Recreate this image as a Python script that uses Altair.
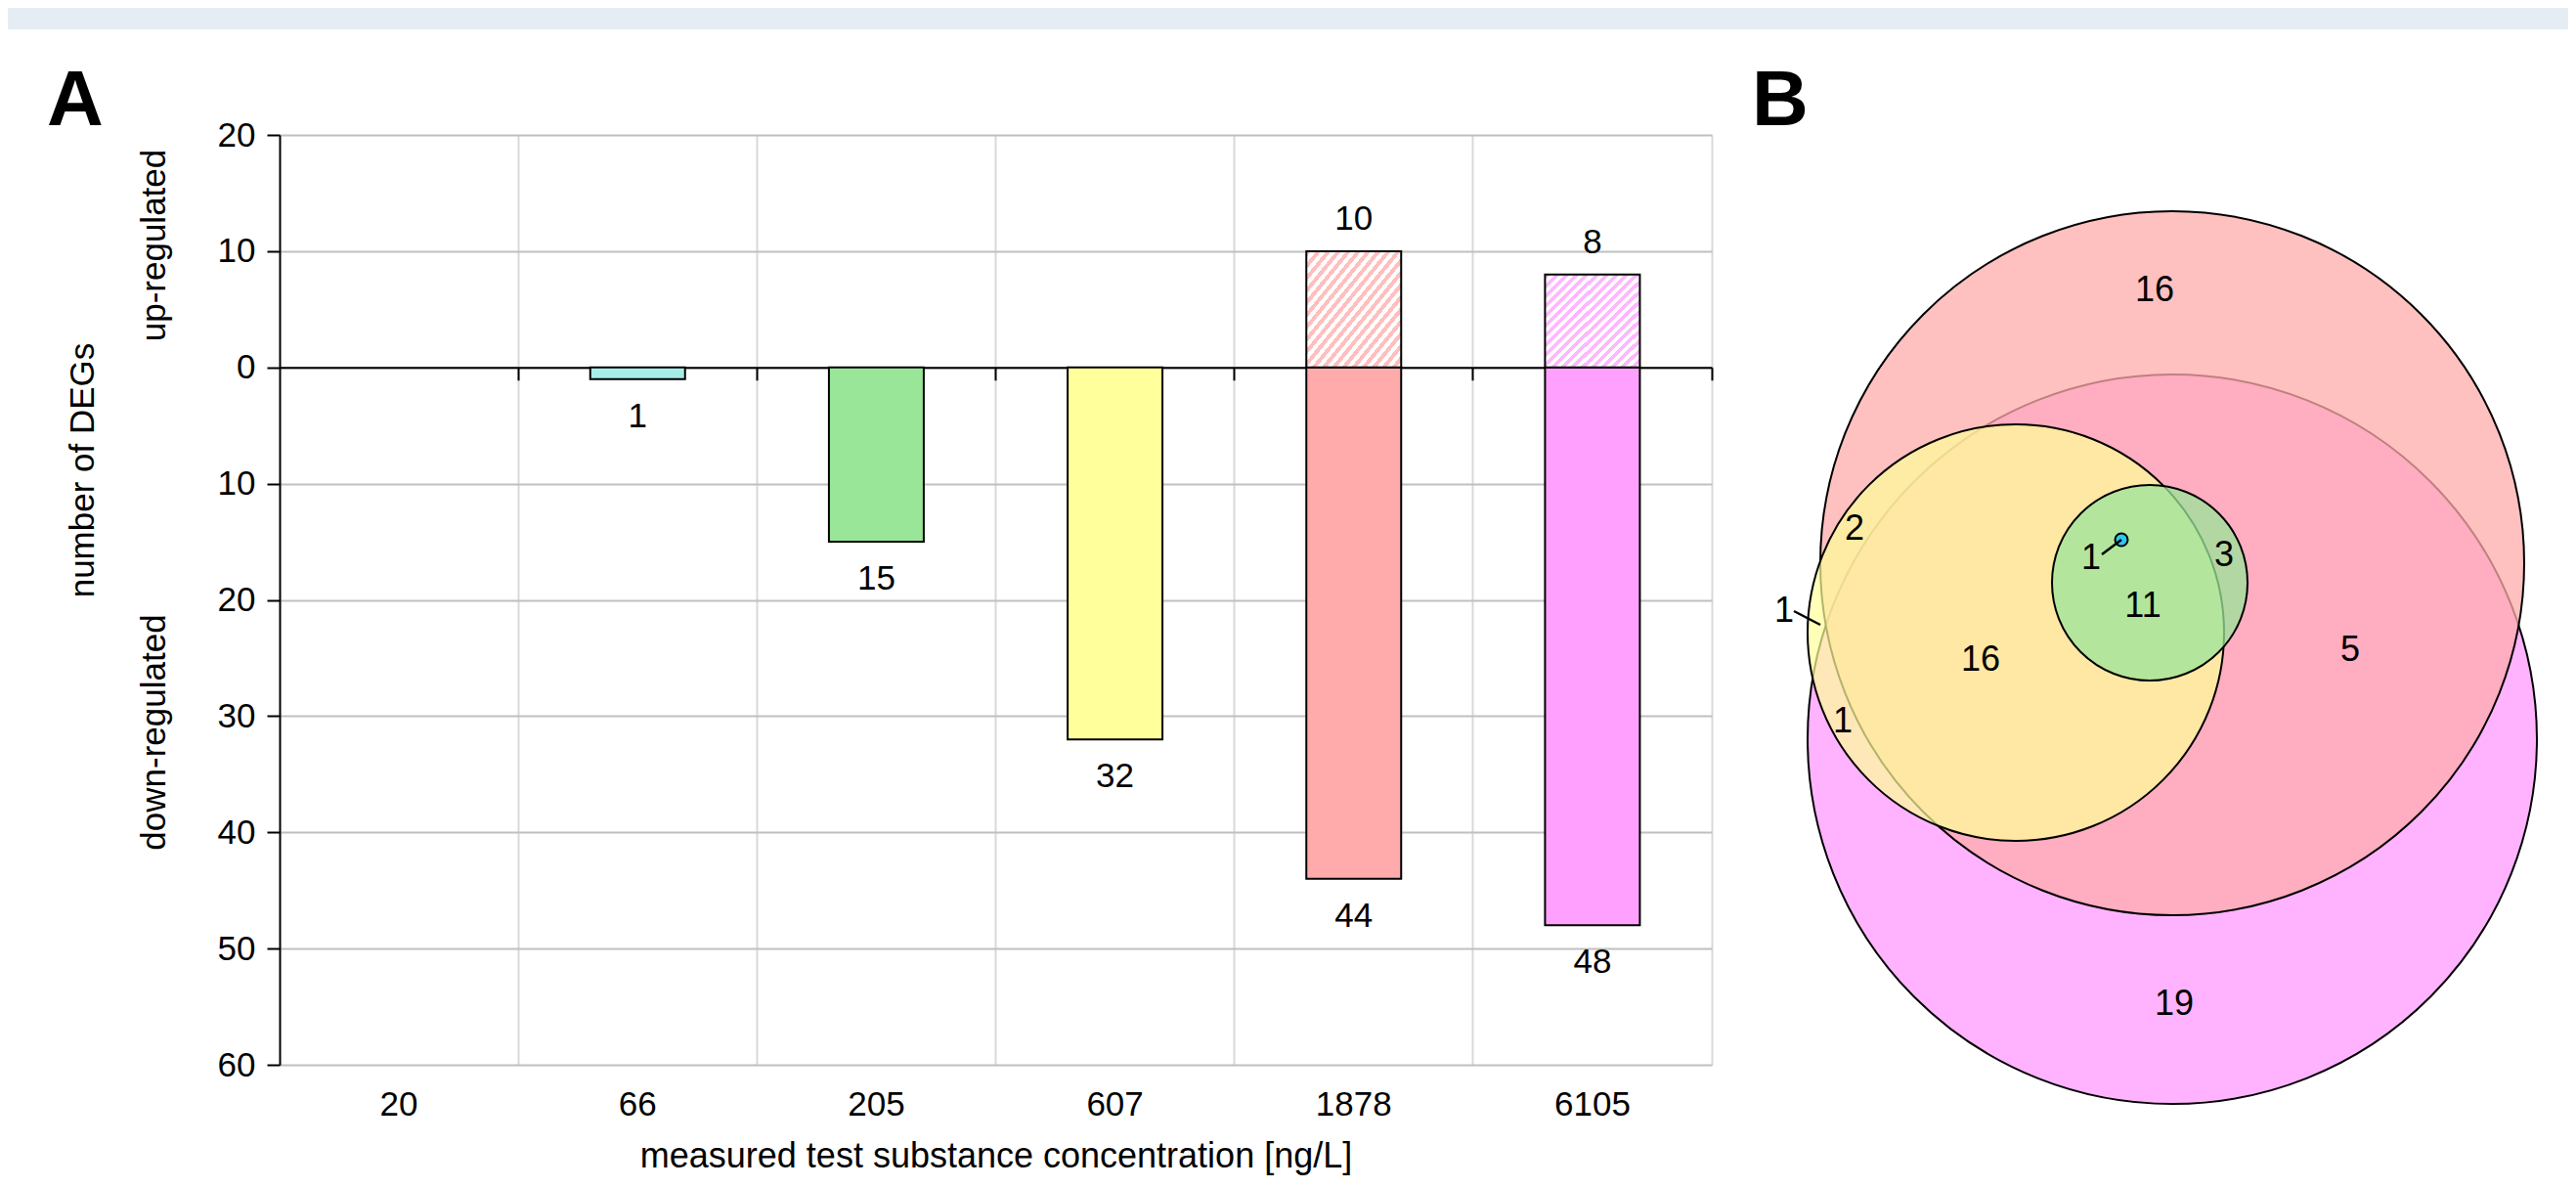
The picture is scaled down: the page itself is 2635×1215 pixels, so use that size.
import altair as alt
import pandas as pd

FONT = "Liberation Sans, Arial, Helvetica, sans-serif"

# ---------------- Panel A data ----------------
concentrations = ["20", "66", "205", "607", "1878", "6105"]
down_regulated = [0, 1, 15, 32, 44, 48]
up_regulated = [0, 0, 0, 0, 10, 8]
bar_colors = ["#FFFFFF", "#A6EDE8", "#99E699", "#FFFF9C", "#FFABAB", "#FFA0FF"]
hatch_colors = ["#FFFFFF", "#FFFFFF", "#FFFFFF", "#FFFFFF", "#FFBFBF", "#FFB8FF"]
y_ticks = [20, 10, 0, -10, -20, -30, -40, -50, -60]
y_domain = [-60, 20]

# ---------------- Panel B data (Euler diagram) ----------------
venn_sets = ["6105 ng/L", "1878 ng/L", "607 ng/L", "205 ng/L", "66 ng/L"]
venn_cx = [0, 0, -160, -23, -52]
venn_cy = [-180, 0, -71, -20, 24]
venn_r = [373, 360, 213, 100, 6.5]
venn_fill = ["#FFA0FF", "#FFABAB", "#FFFF99", "#99E699", "#2EC8EE"]
venn_alpha = [0.8, 0.75, 0.7, 0.75, 1.0]

region_counts = ["16", "19", "5", "16", "11", "3", "1", "2", "1", "1"]
region_x = [-18, 2, 182, -196, -30, 53, -83, -325, -397, -337]
region_y = [279, -451, -89, -99, -44, 8, 5, 35, -49, -162]

leader_x = [-72, -387]
leader_y = [9, -49]
leader_x2 = [-52, -360]
leader_y2 = [24, -63]

# ---------------- geometry ----------------
W, H = 1465, 951
PAD_L, PAD_T, PAD_R, PAD_B = 278, 130, 876, 118
zero_y = H * (y_domain[1] - 0) / (y_domain[1] - y_domain[0])
band = W / len(concentrations)
VX0, VY0 = 1936, 438

bars_df = pd.DataFrame({
    "conc": concentrations,
    "down": down_regulated,
    "up": up_regulated,
    "color": bar_colors,
    "hatch": hatch_colors,
})
bars_df["neg"] = -bars_df["down"]
down_df = bars_df[bars_df["down"] > 0]
up_df = bars_df[bars_df["up"] > 0]

x_scale = alt.Scale(domain=concentrations, paddingInner=0, paddingOuter=0)
y_scale = alt.Scale(domain=y_domain, nice=False, zero=True)

x_axis = alt.Axis(
    title="measured test substance concentration [ng/L]",
    bandPosition=1, offset=-(H - zero_y),
    ticks=True, tickSize=13, tickColor="black", tickWidth=2,
    domainColor="black", domainWidth=2,
    grid=True, gridColor="#D9D9D9", gridWidth=2,
    labelPadding=724, labelFontSize=35, labelFont=FONT, labelColor="black", labelAngle=0,
    titleFont=FONT, titleFontSize=36, titleFontWeight="normal", titleColor="black",
    titleY=818, titleBaseline="alphabetic",
)
y_axis = alt.Axis(
    values=y_ticks, labelExpr="format(abs(datum.value), 'd')", title=None,
    tickSize=13, tickColor="black", tickWidth=2,
    domainColor="black", domainWidth=2,
    grid=True, gridColor="#C0C0C0", gridWidth=2,
    labelPadding=12, labelFontSize=35, labelFont=FONT, labelColor="black",
)

x_enc = alt.X("conc:N", sort=concentrations, scale=x_scale, axis=x_axis)


def hatch(color, periods=19, duty=0.5):
    stops = []
    for k in range(periods):
        a = k / periods
        b = (k + duty) / periods
        c = (k + 1) / periods
        stops += [
            alt.GradientStop(offset=a, color=color),
            alt.GradientStop(offset=b, color=color),
            alt.GradientStop(offset=b, color="#FFFFFF"),
            alt.GradientStop(offset=c, color="#FFFFFF"),
        ]
    return alt.LinearGradient(gradient="linear", stops=stops, x1=0, y1=0, x2=1, y2=1)


dummy = alt.Data(values=[{}])

top_band = alt.Chart(dummy).mark_rect(color="#E5ECF4").encode(
    x=alt.value(-PAD_L), x2=alt.value(W + PAD_R), y=alt.value(-PAD_T), y2=alt.value(-108)
)

down_bars = alt.Chart(down_df).mark_bar(size=97, stroke="black", strokeWidth=2).encode(
    x=x_enc,
    y=alt.Y("neg:Q", scale=y_scale, axis=y_axis),
    fill=alt.Fill("color:N", scale=None),
)

up_layers = []
for _, row in up_df.iterrows():
    up_layers.append(
        alt.Chart(pd.DataFrame([row])).mark_bar(
            size=97, stroke="black", strokeWidth=2, fill=hatch(row["hatch"])
        ).encode(x=x_enc, y=alt.Y("up:Q", scale=y_scale, axis=y_axis))
    )

down_labels = alt.Chart(down_df).mark_text(
    baseline="top", dy=21, fontSize=35, font=FONT, color="black"
).encode(x=x_enc, y=alt.Y("neg:Q", scale=y_scale, axis=y_axis), text="down:N")

up_labels = alt.Chart(up_df).mark_text(
    baseline="alphabetic", dy=-22, fontSize=35, font=FONT, color="black"
).encode(x=x_enc, y=alt.Y("up:Q", scale=y_scale, axis=y_axis), text="up:N")


def note(text, x, y, size=35, angle=0, weight="normal", align="center", baseline="middle"):
    return alt.Chart(dummy).mark_text(
        text=text, fontSize=size, font=FONT, fontWeight=weight, angle=angle,
        align=align, baseline=baseline, color="black"
    ).encode(x=alt.value(x), y=alt.value(y))


notes = [
    note("number of DEGs", -201, 343, angle=270),
    note("up-regulated", -128, 113, angle=270),
    note("down-regulated", -128, 611, angle=270),
    note("A", -238, -10, size=80, weight="bold", align="left", baseline="alphabetic"),
    note("B", 1506, -10, size=80, weight="bold", align="left", baseline="alphabetic"),
]

bar_group = alt.layer(top_band, down_bars, *up_layers, down_labels, up_labels, *notes)

# ---------------- Panel B ----------------
vx = alt.Scale(domain=[-VX0, W - VX0], nice=False, zero=False)
vy = alt.Scale(domain=[VY0 - H, VY0], nice=False, zero=False)

venn_df = pd.DataFrame({
    "set": venn_sets, "u": venn_cx, "v": venn_cy, "r": venn_r,
    "fill": venn_fill, "alpha": venn_alpha, "idx": list(range(len(venn_sets))),
})
circles = alt.Chart(venn_df).transform_calculate(
    area="pow(2 * datum.r, 2)"
).mark_circle(stroke="black", strokeWidth=2, opacity=1).encode(
    x=alt.X("u:Q", scale=vx, axis=None),
    y=alt.Y("v:Q", scale=vy, axis=None),
    size=alt.Size("area:Q", scale=None),
    fill=alt.Fill("fill:N", scale=None),
    fillOpacity=alt.FillOpacity("alpha:Q", scale=None),
    order=alt.Order("idx:Q"),
)

leader_df = pd.DataFrame({"x": leader_x, "y": leader_y, "x2": leader_x2, "y2": leader_y2})
leaders = alt.Chart(leader_df).mark_rule(color="black", strokeWidth=2.5).encode(
    x=alt.X("x:Q", scale=vx, axis=None), y=alt.Y("y:Q", scale=vy, axis=None),
    x2="x2:Q", y2="y2:Q",
)

region_df = pd.DataFrame({"t": region_counts, "u": region_x, "v": region_y})
region_labels = alt.Chart(region_df).mark_text(
    fontSize=36, font=FONT, align="center", baseline="middle", color="black"
).encode(
    x=alt.X("u:Q", scale=vx, axis=None), y=alt.Y("v:Q", scale=vy, axis=None), text="t:N"
)

venn_group = alt.layer(circles, leaders, region_labels)

chart = alt.layer(bar_group, venn_group).resolve_scale(
    x="independent", y="independent"
).properties(
    width=W, height=H,
    autosize=alt.AutoSizeParams(type="none"),
    padding={"left": PAD_L, "top": PAD_T, "right": PAD_R, "bottom": PAD_B},
    background="#FFFFFF",
).configure_view(strokeWidth=0)

chart.save("out.html", embed_options={"renderer": "svg", "actions": False})
